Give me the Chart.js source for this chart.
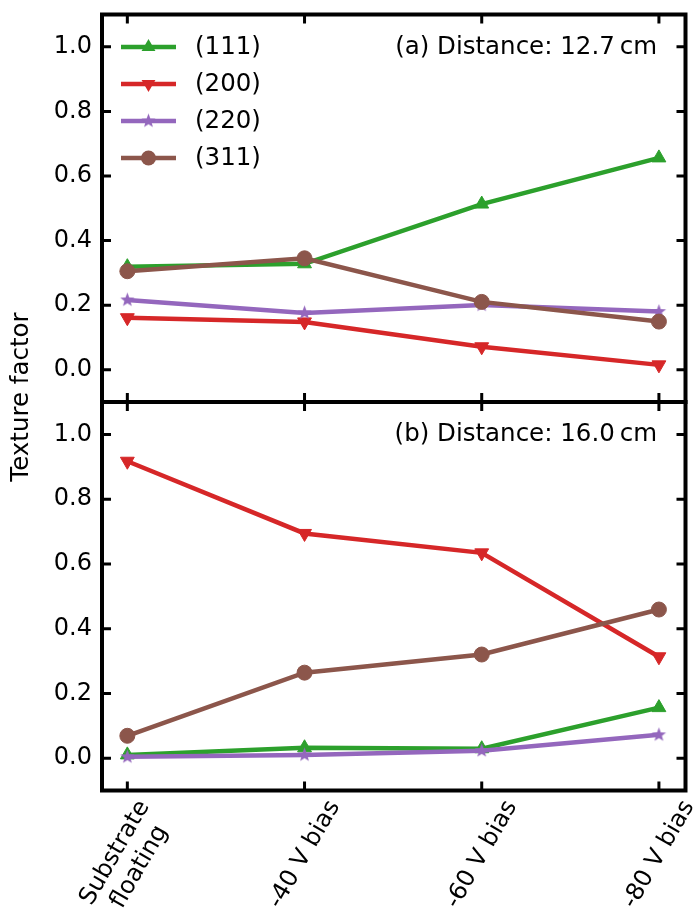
<!DOCTYPE html>
<html>
<head>
<meta charset="utf-8">
<script src="https://cdn.jsdelivr.net/npm/chart.js@4.4.1/dist/chart.umd.min.js"></script>
<style>
  html, body { margin: 0; padding: 0; background: #fff; }
  #wrap { position: relative; width: 697px; height: 917px; }
  canvas { position: absolute; left: 0; top: 0; }
</style>
</head>
<body>
<div id="wrap">
  <canvas id="panelA" width="697" height="917"></canvas>
  <canvas id="panelB" width="697" height="917"></canvas>
</div>
<script>
// --- data ---
const categories = [['Substrate', 'floating'], ['-40 V bias'], ['-60 V bias'], ['-80 V bias']];
const seriesNames = ['(111)', '(200)', '(220)', '(311)'];
const yTicks = [0.0, 0.2, 0.4, 0.6, 0.8, 1.0];

// (a) distance 12.7 cm
const a111 = [0.319, 0.328, 0.513, 0.656];
const a200 = [0.161, 0.148, 0.071, 0.015];
const a220 = [0.216, 0.176, 0.200, 0.180];
const a311 = [0.305, 0.345, 0.210, 0.149];

// (b) distance 16.0 cm
const b111 = [0.010, 0.032, 0.029, 0.156];
const b200 = [0.917, 0.694, 0.634, 0.313];
const b220 = [0.004, 0.010, 0.023, 0.072];
const b311 = [0.069, 0.264, 0.320, 0.459];

const colors = ['#2ca02c', '#d62728', '#9467bd', '#8c564b'];
const TICK_SIZE = 24;
const TICK_FONT = TICK_SIZE + 'px "DejaVu Sans"';
const TEXT_FONT = '24.5px "DejaVu Sans"';
const LINE_W = 4.5;

// filled 5-point star, like matplotlib '*'
function makeStar(color, r) {
  const c = document.createElement('canvas');
  const s = Math.ceil(r * 2 + 2);
  c.width = s; c.height = s;
  const g = c.getContext('2d');
  g.fillStyle = color;
  g.beginPath();
  for (let i = 0; i < 10; i++) {
    const rad = i % 2 ? r * 0.42 : r;
    const ang = -Math.PI / 2 + i * Math.PI / 5;
    g.lineTo(s / 2 + rad * Math.cos(ang), s / 2 + rad * Math.sin(ang));
  }
  g.closePath();
  g.fill();
  return c;
}
const starImg = makeStar(colors[2], 7.5);

const markers = [
  { style: 'triangle', rot: 0, r: 8 },
  { style: 'triangle', rot: 180, r: 8 },
  { style: starImg, rot: 0, r: 7 },
  { style: 'circle', rot: 0, r: 7.5 }
];

function makeDatasets(vals) {
  return vals.map((v, i) => ({
    label: seriesNames[i],
    data: v.map((y, k) => ({ x: k, y: y })),
    borderColor: colors[i],
    backgroundColor: colors[i],
    borderWidth: LINE_W,
    pointStyle: markers[i].style,
    pointRotation: markers[i].rot,
    pointRadius: markers[i].r,
    pointBorderWidth: 1,
    pointBackgroundColor: colors[i],
    pointBorderColor: colors[i],
    order: 3 - i,
    tension: 0
  }));
}

function drawMarker(ctx, i, x, y) {
  const m = markers[i];
  ctx.fillStyle = colors[i];
  if (m.style === 'circle') {
    ctx.beginPath();
    ctx.arc(x, y, m.r, 0, Math.PI * 2);
    ctx.fill();
  } else if (m.style === 'triangle') {
    let rad = m.rot * Math.PI / 180;
    ctx.beginPath();
    for (let k = 0; k < 3; k++) {
      ctx.lineTo(x + Math.sin(rad) * m.r, y - Math.cos(rad) * m.r);
      rad += Math.PI * 2 / 3;
    }
    ctx.closePath();
    ctx.fill();
  } else {
    ctx.drawImage(m.style, x - m.style.width / 2, y - m.style.height / 2);
  }
}

// frame + inward ticks on all four sides
const framePlugin = {
  id: 'frame',
  afterDatasetsDraw(chart) {
    const { ctx, chartArea: a, scales: { x, y } } = chart;
    ctx.save();
    ctx.strokeStyle = '#000';
    ctx.lineWidth = 4;
    ctx.strokeRect(a.left, a.top, a.right - a.left, a.bottom - a.top);
    ctx.lineWidth = 3;
    ctx.beginPath();
    yTicks.forEach(v => {
      const py = y.getPixelForValue(v);
      ctx.moveTo(a.left, py); ctx.lineTo(a.left + 9, py);
      ctx.moveTo(a.right, py); ctx.lineTo(a.right - 9, py);
    });
    categories.forEach((c, k) => {
      const px = x.getPixelForValue(k);
      ctx.moveTo(px, a.top); ctx.lineTo(px, a.top + 9);
      ctx.moveTo(px, a.bottom); ctx.lineTo(px, a.bottom - 9);
    });
    ctx.stroke();
    ctx.restore();
  }
};

// panel label, legend, shared y title, rotated x labels
const panelPlugin = {
  id: 'panel',
  afterDraw(chart, args, opts) {
    const { ctx, chartArea: a, scales: { x } } = chart;
    ctx.save();
    ctx.font = TEXT_FONT;
    ctx.fillStyle = '#000';

    ctx.textAlign = 'right';
    ctx.textBaseline = 'alphabetic';
    ctx.fillText(opts.label, a.right - 28.5, a.top + 39);

    if (opts.legend) {
      seriesNames.forEach((name, i) => {
        const ly = a.top + 32.5 + i * 37;
        ctx.strokeStyle = colors[i];
        ctx.lineWidth = LINE_W;
        ctx.beginPath();
        ctx.moveTo(a.left + 19, ly); ctx.lineTo(a.left + 74, ly);
        ctx.stroke();
        drawMarker(ctx, i, a.left + 46.5, ly);
        ctx.fillStyle = '#000';
        ctx.textAlign = 'left';
        ctx.textBaseline = 'middle';
        ctx.fillText(name, a.left + 93, ly + 1);
      });
    }

    if (opts.yTitle) {
      ctx.save();
      ctx.translate(22, 397);
      ctx.rotate(-Math.PI / 2);
      ctx.textAlign = 'center';
      ctx.textBaseline = 'middle';
      ctx.fillStyle = '#000';
      ctx.fillText('Texture factor', 0, 0);
      ctx.restore();
    }

    if (opts.xLabels) {
      ctx.font = TICK_FONT;
      const ang = 60 * Math.PI / 180;
      const lh = 28;
      categories.forEach((lines, k) => {
        const px = x.getPixelForValue(k);
        const w = Math.max(...lines.map(l => ctx.measureText(l).width));
        const h = lines.length * lh;
        const H = w * Math.sin(ang) + h * Math.cos(ang);
        const cy = a.bottom + 5 + H / 2;
        ctx.save();
        ctx.translate(px, cy);
        ctx.rotate(-ang);
        ctx.textAlign = 'center';
        ctx.textBaseline = 'middle';
        ctx.fillStyle = '#000';
        lines.forEach((l, j) => ctx.fillText(l, 0, (j - (lines.length - 1) / 2) * lh));
        ctx.restore();
      });
    }
    ctx.restore();
  }
};

function makeChart(id, vals, pad, extra) {
  return new Chart(document.getElementById(id), {
    type: 'line',
    data: { datasets: makeDatasets(vals) },
    options: {
      responsive: false,
      animation: false,
      events: [],
      layout: { padding: pad, autoPadding: false },
      plugins: { legend: { display: false }, tooltip: { enabled: false }, panel: extra },
      scales: {
        x: { type: 'linear', min: -0.143, max: 3.15, display: false },
        y: {
          min: -0.1, max: 1.1,
          afterBuildTicks: s => { s.ticks = yTicks.map(v => ({ value: v })); },
          afterFit: s => { s.width = 60; s.paddingTop = 0; s.paddingBottom = 0; },
          grid: { display: false, drawTicks: false },
          border: { display: false },
          ticks: {
            padding: 10, color: '#000',
            font: { family: 'DejaVu Sans', size: TICK_SIZE },
            callback: v => Number(v).toFixed(1)
          }
        }
      }
    },
    plugins: [framePlugin, panelPlugin]
  });
}

makeChart('panelA', [a111, a200, a220, a311],
  { left: 42, right: 11.5, top: 14.5, bottom: 515 },
  { label: '(a) Distance: 12.7\u2009cm', legend: true, yTitle: true });

makeChart('panelB', [b111, b200, b220, b311],
  { left: 42, right: 11.5, top: 402, bottom: 126.5 },
  { label: '(b) Distance: 16.0\u2009cm', xLabels: true });
</script>
</body>
</html>
